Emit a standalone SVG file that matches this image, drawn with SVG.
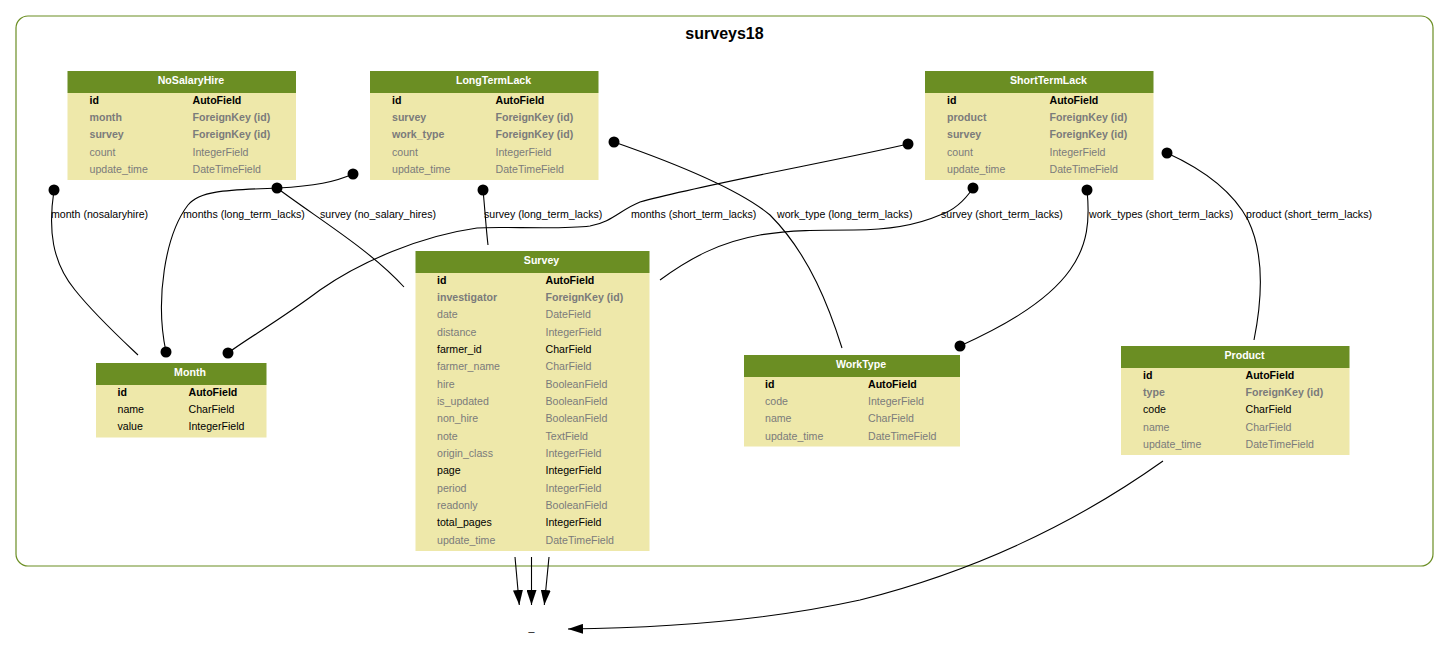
<svg xmlns="http://www.w3.org/2000/svg" width="1449" height="659" viewBox="0 0 1449 659">
  <style>
    text { font-family: "Liberation Sans", Arial, Helvetica, sans-serif; font-size: 10.6px; fill: #000; }
    .title { font-size: 16px; font-weight: bold; text-anchor: middle; }
    .hdr { fill: #6b8e23; }
    .body { fill: #eee8aa; }
    .hdt { fill: #fff; font-weight: bold; text-anchor: middle; }
    .k { font-weight: bold; }
    .g { fill: #7b7b7b; }
    .e { fill: none; stroke: #000; stroke-width: 1.1; }
    .fk { marker-start: url(#dot); }
    .m2m { marker-start: url(#dot); marker-end: url(#dot); }
    .inh { marker-end: url(#arrow); }
    .cluster { fill: none; stroke: #6b8e23; stroke-width: 1.2; }
  </style>
  <defs>
    <marker id="dot" viewBox="0 0 12 12" refX="6" refY="6" markerWidth="12" markerHeight="12" markerUnits="userSpaceOnUse">
      <circle cx="6" cy="6" r="5.5" fill="#000"/>
    </marker>
    <marker id="arrow" viewBox="0 0 15 10" refX="15" refY="5" markerWidth="15" markerHeight="10" markerUnits="userSpaceOnUse" orient="auto">
      <path d="M0,0 L15,5 L0,10 z" fill="#000"/>
    </marker>
  </defs>

  <rect width="1449" height="659" fill="#fff"/>

  <!-- app cluster -->
  <g id="cluster_surveys18">
    <rect class="cluster" x="16" y="16" width="1417" height="550" rx="12" ry="12"/>
    <text class="title" x="724.5" y="39">surveys18</text>
  </g>

  <!-- relations -->
  <g id="connectors">
    <path class="e fk" d="M54,190 C48,230 52,262 75,290 C95,315 120,338 138,355"/>
    <path class="e fk" d="M277,188 C320,220 370,250 404,287"/>
    <path class="e m2m" d="M353,174 C335,182 315,186 278,188 C230,190 200,190 188,205 C165,235 155,300 166,352"/>
    <path class="e fk" d="M483,190 C485,210 486,228 488,245"/>
    <path class="e m2m" d="M908,144 C840,160 700,185 640,202 C620,210 612,222 590,226 C560,230 500,226 477,228 C420,236 360,262 320,290 C280,320 245,340 228,353"/>
    <path class="e fk" d="M614,142 C680,165 740,190 770,215 C810,255 830,310 842,348"/>
    <path class="e fk" d="M973,188 C965,200 955,210 940,215 C910,228 880,230 854,230 C820,230 790,230 760,235 C720,242 690,258 660,280"/>
    <path class="e m2m" d="M1087,190 C1090,220 1088,245 1070,270 C1045,305 995,330 960,346"/>
    <path class="e fk" d="M1167,153 C1200,168 1232,190 1248,220 C1265,255 1262,300 1254,340"/>
    <path class="e inh" d="M515,557 L519.3,605"/>
    <path class="e inh" d="M531.5,557 L531.5,605"/>
    <path class="e inh" d="M549,557 L544.3,605"/>
    <path class="e inh" d="M1163,461 C1080,520 980,570 860,600 C760,622 660,628 568,629"/>

    <text x="51" y="218">month (nosalaryhire)</text>
    <text x="183" y="218">months (long_term_lacks)</text>
    <text x="320" y="218">survey (no_salary_hires)</text>
    <text x="484" y="218">survey (long_term_lacks)</text>
    <text x="631" y="218">months (short_term_lacks)</text>
    <text x="777" y="218">work_type (long_term_lacks)</text>
    <text x="941" y="218">survey (short_term_lacks)</text>
    <text x="1089" y="218">work_types (short_term_lacks)</text>
    <text x="1246" y="218">product (short_term_lacks)</text>
  </g>

  <g id="NoSalaryHire">
    <rect class="body" x="67.5" y="93" width="228.5" height="87"/>
    <rect class="hdr" x="67.5" y="71" width="228.5" height="22"/>
    <text class="hdt" x="191" y="83.8">NoSalaryHire</text>
    <text class="k" x="89.5" y="103.5">id</text><text class="k" x="192.5" y="103.5">AutoField</text>
    <text class="k g" x="89.5" y="120.85">month</text><text class="k g" x="192.5" y="120.85">ForeignKey (id)</text>
    <text class="k g" x="89.5" y="138.2">survey</text><text class="k g" x="192.5" y="138.2">ForeignKey (id)</text>
    <text class="g" x="89.5" y="155.55">count</text><text class="g" x="192.5" y="155.55">IntegerField</text>
    <text class="g" x="89.5" y="172.9">update_time</text><text class="g" x="192.5" y="172.9">DateTimeField</text>
  </g>

  <g id="LongTermLack">
    <rect class="body" x="370" y="93" width="228.5" height="87"/>
    <rect class="hdr" x="370" y="71" width="228.5" height="22"/>
    <text class="hdt" x="493.5" y="83.8">LongTermLack</text>
    <text class="k" x="392" y="103.5">id</text><text class="k" x="495.5" y="103.5">AutoField</text>
    <text class="k g" x="392" y="120.85">survey</text><text class="k g" x="495.5" y="120.85">ForeignKey (id)</text>
    <text class="k g" x="392" y="138.2">work_type</text><text class="k g" x="495.5" y="138.2">ForeignKey (id)</text>
    <text class="g" x="392" y="155.55">count</text><text class="g" x="495.5" y="155.55">IntegerField</text>
    <text class="g" x="392" y="172.9">update_time</text><text class="g" x="495.5" y="172.9">DateTimeField</text>
  </g>

  <g id="ShortTermLack">
    <rect class="body" x="925" y="93" width="228.5" height="87"/>
    <rect class="hdr" x="925" y="71" width="228.5" height="22"/>
    <text class="hdt" x="1048.5" y="83.8">ShortTermLack</text>
    <text class="k" x="947" y="103.5">id</text><text class="k" x="1049.5" y="103.5">AutoField</text>
    <text class="k g" x="947" y="120.85">product</text><text class="k g" x="1049.5" y="120.85">ForeignKey (id)</text>
    <text class="k g" x="947" y="138.2">survey</text><text class="k g" x="1049.5" y="138.2">ForeignKey (id)</text>
    <text class="g" x="947" y="155.55">count</text><text class="g" x="1049.5" y="155.55">IntegerField</text>
    <text class="g" x="947" y="172.9">update_time</text><text class="g" x="1049.5" y="172.9">DateTimeField</text>
  </g>

  <g id="Survey">
    <rect class="body" x="415.5" y="273" width="234" height="278"/>
    <rect class="hdr" x="415.5" y="251" width="234" height="22"/>
    <text class="hdt" x="541.5" y="264">Survey</text>
    <text class="k" x="437" y="283.5">id</text><text class="k" x="545.5" y="283.5">AutoField</text>
    <text class="k g" x="437" y="300.85">investigator</text><text class="k g" x="545.5" y="300.85">ForeignKey (id)</text>
    <text class="g" x="437" y="318.2">date</text><text class="g" x="545.5" y="318.2">DateField</text>
    <text class="g" x="437" y="335.55">distance</text><text class="g" x="545.5" y="335.55">IntegerField</text>
    <text x="437" y="352.9">farmer_id</text><text x="545.5" y="352.9">CharField</text>
    <text class="g" x="437" y="370.25">farmer_name</text><text class="g" x="545.5" y="370.25">CharField</text>
    <text class="g" x="437" y="387.6">hire</text><text class="g" x="545.5" y="387.6">BooleanField</text>
    <text class="g" x="437" y="404.95">is_updated</text><text class="g" x="545.5" y="404.95">BooleanField</text>
    <text class="g" x="437" y="422.3">non_hire</text><text class="g" x="545.5" y="422.3">BooleanField</text>
    <text class="g" x="437" y="439.65">note</text><text class="g" x="545.5" y="439.65">TextField</text>
    <text class="g" x="437" y="457">origin_class</text><text class="g" x="545.5" y="457">IntegerField</text>
    <text x="437" y="474.35">page</text><text x="545.5" y="474.35">IntegerField</text>
    <text class="g" x="437" y="491.7">period</text><text class="g" x="545.5" y="491.7">IntegerField</text>
    <text class="g" x="437" y="509.05">readonly</text><text class="g" x="545.5" y="509.05">BooleanField</text>
    <text x="437" y="526.4">total_pages</text><text x="545.5" y="526.4">IntegerField</text>
    <text class="g" x="437" y="543.75">update_time</text><text class="g" x="545.5" y="543.75">DateTimeField</text>
  </g>

  <g id="Month">
    <rect class="body" x="96" y="385" width="170.5" height="52.5"/>
    <rect class="hdr" x="96" y="363" width="170.5" height="22"/>
    <text class="hdt" x="190" y="375.8">Month</text>
    <text class="k" x="117.5" y="395.5">id</text><text class="k" x="188.5" y="395.5">AutoField</text>
    <text x="117.5" y="412.85">name</text><text x="188.5" y="412.85">CharField</text>
    <text x="117.5" y="430.2">value</text><text x="188.5" y="430.2">IntegerField</text>
  </g>

  <g id="WorkType">
    <rect class="body" x="744" y="377" width="216" height="69.5"/>
    <rect class="hdr" x="744" y="355" width="216" height="22"/>
    <text class="hdt" x="861" y="367.8">WorkType</text>
    <text class="k" x="765" y="387.5">id</text><text class="k" x="868" y="387.5">AutoField</text>
    <text class="g" x="765" y="404.85">code</text><text class="g" x="868" y="404.85">IntegerField</text>
    <text class="g" x="765" y="422.2">name</text><text class="g" x="868" y="422.2">CharField</text>
    <text class="g" x="765" y="439.55">update_time</text><text class="g" x="868" y="439.55">DateTimeField</text>
  </g>

  <g id="Product">
    <rect class="body" x="1121" y="368" width="228.5" height="87"/>
    <rect class="hdr" x="1121" y="346" width="228.5" height="22"/>
    <text class="hdt" x="1244.5" y="358.8">Product</text>
    <text class="k" x="1143" y="378.5">id</text><text class="k" x="1245.5" y="378.5">AutoField</text>
    <text class="k g" x="1143" y="395.85">type</text><text class="k g" x="1245.5" y="395.85">ForeignKey (id)</text>
    <text x="1143" y="413.2">code</text><text x="1245.5" y="413.2">CharField</text>
    <text class="g" x="1143" y="430.55">name</text><text class="g" x="1245.5" y="430.55">CharField</text>
    <text class="g" x="1143" y="447.9">update_time</text><text class="g" x="1245.5" y="447.9">DateTimeField</text>
  </g>

  <g id="base_model">
    <text x="531.5" y="631" text-anchor="middle">_</text>
  </g>
</svg>
